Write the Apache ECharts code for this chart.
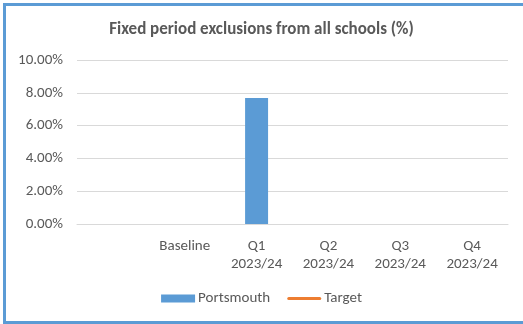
<!DOCTYPE html>
<html>
<head>
<meta charset="utf-8">
<script src="https://cdn.jsdelivr.net/npm/echarts@6/dist/echarts.min.js"></script>
<style>
  html, body { margin: 0; padding: 0; background: #fff; overflow: hidden; }
  #chart { position: absolute; left: 0; top: 0; width: 523px; height: 324px; }
  #frame { position: absolute; left: 3px; top: 3px; width: 540px; height: 315px;
           border: 3px solid #5B9BD5; pointer-events: none; }
</style>
</head>
<body>
<div id="chart"></div>
<div id="frame"></div>
<script>
// Quarterly fixed period exclusions (%) with target
const categories = ['', 'Baseline', 'Q1\n2023/24', 'Q2\n2023/24', 'Q3\n2023/24', 'Q4\n2023/24'];
const portsmouth = [null, null, 7.68, null, null, null];
const target = [null, null, null, null, null, null];
const yTicks = { min: 0, max: 10, interval: 2 };

const font = 'Carlito, Lato, "Open Sans", sans-serif';
const grey = '#595959';
// thin rounded stroke used as the target key
const lineIcon = 'path://M1.5,0 H32.5 A1.5,1.5 0 0 1 32.5,3 H1.5 A1.5,1.5 0 0 1 1.5,0 Z';

const chart = echarts.init(document.getElementById('chart'), null, { renderer: 'canvas' });
chart.setOption({
  animation: false,
  title: {
    text: 'Fixed period exclusions from all schools (%)',
    left: 'center',
    padding: [5, 0, 5, 10],
    top: 16,
    textStyle: { fontFamily: font, fontSize: 17, fontWeight: 'bold', color: grey }
  },
  grid: { left: 77, right: 15, top: 60, bottom: 100 },
  xAxis: {
    type: 'category',
    data: categories,
    axisTick: { show: false },
    axisLine: { show: true, lineStyle: { color: '#d9d9d9' } },
    axisLabel: { fontFamily: font, fontSize: 15, color: grey, margin: 13, lineHeight: 18, interval: 0 }
  },
  yAxis: {
    type: 'value',
    min: yTicks.min, max: yTicks.max, interval: yTicks.interval,
    axisLine: { show: false },
    axisTick: { show: false },
    splitLine: { lineStyle: { color: '#d9d9d9' } },
    axisLabel: { fontFamily: font, fontSize: 15, color: grey, margin: 14,
                 formatter: v => v.toFixed(2) + '%' }
  },
  legend: {
    bottom: 13,
    left: 'center',
    itemGap: 17,
    itemWidth: 34,
    itemHeight: 8,
    textStyle: { fontFamily: font, fontSize: 15, color: grey, padding: [0, 0, 0, -2] },
    data: [
      { name: 'Portsmouth', icon: 'rect' },
      { name: 'Target', icon: lineIcon, itemStyle: { color: '#ED7D31' } }
    ]
  },
  series: [
    {
      name: 'Portsmouth',
      type: 'bar',
      data: portsmouth,
      barWidth: '32%',
      itemStyle: { color: '#5B9BD5' }
    },
    {
      name: 'Target',
      type: 'line',
      data: target,
      symbol: 'none',
      lineStyle: { color: '#ED7D31', width: 3, cap: 'round' },
      itemStyle: { color: '#ED7D31' }
    }
  ]
});
</script>
</body>
</html>
